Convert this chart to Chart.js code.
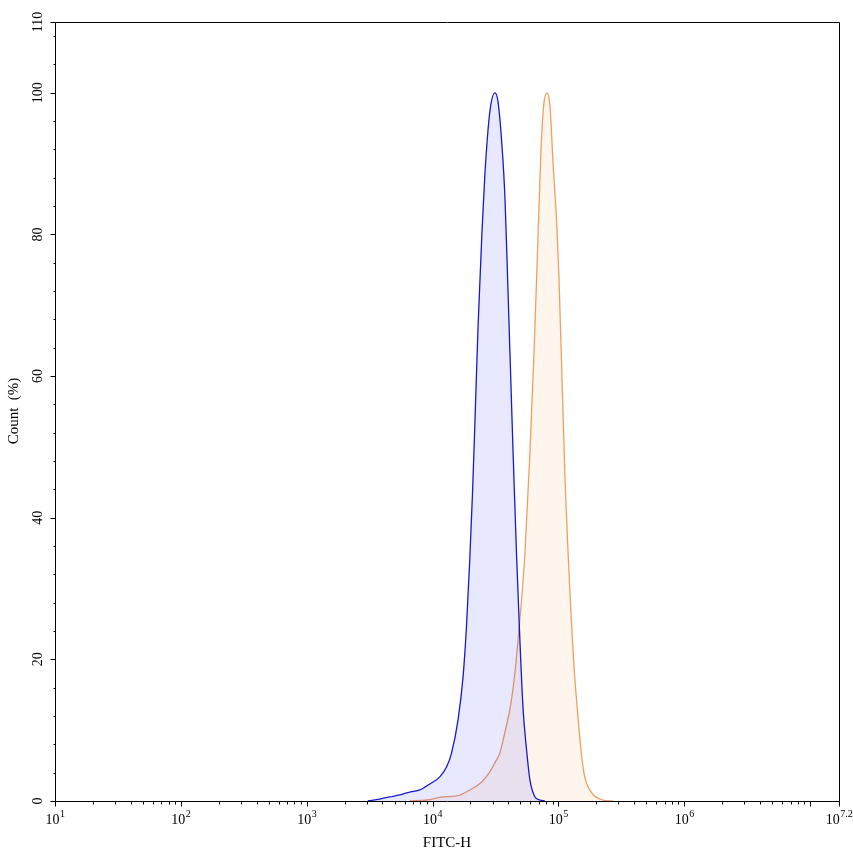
<!DOCTYPE html>
<html>
<head>
<meta charset="utf-8">
<script src="https://cdn.jsdelivr.net/npm/chart.js@4/dist/chart.umd.min.js"></script>
<style>
html,body{margin:0;padding:0;background:#fff;}
#wrap{width:853px;height:856px;position:relative;}
</style>
</head>
<body>
<div id="wrap"><canvas id="c"></canvas></div>
<script>
// ---- data (x stored as log10 of FITC-H, y as Count %) ----
const blueLogFITC = [3.486,3.581,3.661,3.740,3.820,3.899,3.979,4.058,4.114,4.151,4.203,4.243,4.270,4.296,4.318,4.336,4.362,4.392,4.416,4.456,4.496,4.520,4.552,4.576,4.598,4.616,4.641,4.668,4.694,4.720,4.743,4.774,4.814,4.853,4.893];
const blueCount   = [0,0.28,0.57,0.85,1.27,1.56,2.41,3.40,4.9,6.75,11.5,17.6,24.7,34.1,43.6,53.0,67.1,80.0,88.5,97.4,100,98.8,92.5,85.0,73.0,62.9,48.7,34.6,22.8,12.9,8.0,2.97,0.57,0.14,0];
const orangeLogFITC = [3.820,3.955,4.082,4.193,4.296,4.391,4.455,4.495,4.535,4.574,4.620,4.654,4.680,4.733,4.773,4.808,4.837,4.862,4.885,4.909,4.933,4.957,4.989,5.005,5.029,5.053,5.076,5.100,5.124,5.148,5.187,5.211,5.267,5.354,5.434];
const orangeCount   = [0,0.14,0.57,0.71,1.56,2.69,4.10,5.38,6.79,9.62,13.5,18.0,22.8,34.6,48.7,64.0,79.0,92.0,98.5,100,98.2,90.3,80.8,73.7,59.6,45.4,35.5,26.5,19.0,13.5,6.0,3.3,1.1,0.14,0];

const xMajorExps   = [1,2,3,4,5,6,7];
const xLabelExps   = ['1','2','3','4','5','6'];
const xEndLabelExp = '7.2';
const xMinExp = 1, xMaxExp = 7.23;
const yMajorTicks  = [0,20,40,60,80,100,110];
const yLabels      = ['0','20','40','60','80','100','110'];
const yMinorStep = 4;
const xTitle = 'FITC-H';
const yTitle = 'Count  (%)';

const toPts = (ex, ys) => ex.map((e,i)=>({x:Math.pow(10,e), y:ys[i]}));

const SERIF = '"Liberation Serif","DejaVu Serif",serif';

const axesPlugin = {
  id:'axesPlugin',
  afterDraw(chart){
    const {ctx, chartArea:{left,right,top,bottom}, scales:{x,y}} = chart;
    ctx.save();
    ctx.strokeStyle='#000';
    ctx.fillStyle='#000';
    ctx.lineWidth=1;
    ctx.beginPath();
    ctx.rect(Math.round(left)+0.5, Math.round(top)+0.5, Math.round(right-left), Math.round(bottom-top));
    ctx.stroke();
    const B = Math.round(bottom)+0.5, L = Math.round(left)+0.5;
    ctx.beginPath();
    for(let v=0; v<=108; v+=yMinorStep){
      const py = Math.round(y.getPixelForValue(v))+0.5;
      ctx.moveTo(L-2,py); ctx.lineTo(L,py);
    }
    yMajorTicks.forEach(v=>{
      const py = Math.round(y.getPixelForValue(v))+0.5;
      ctx.moveTo(L-5,py); ctx.lineTo(L,py);
    });
    for(let d=xMinExp; d<Math.ceil(xMaxExp); d++){
      for(let k=2;k<=9;k++){
        const val = k*Math.pow(10,d);
        if(Math.log10(val)>xMaxExp) break;
        const px = Math.round(x.getPixelForValue(val))+0.5;
        ctx.moveTo(px,B); ctx.lineTo(px,B+3);
      }
    }
    xMajorExps.forEach(e=>{
      const px = Math.round(x.getPixelForValue(Math.pow(10,e)))+0.5;
      ctx.moveTo(px,B); ctx.lineTo(px,B+5);
    });
    ctx.moveTo(Math.round(right)+0.5,B); ctx.lineTo(Math.round(right)+0.5,B+5);
    ctx.stroke();

    ctx.font = '14px '+SERIF;
    ctx.textAlign='center'; ctx.textBaseline='middle';
    yMajorTicks.forEach((v,i)=>{
      const py = y.getPixelForValue(v);
      ctx.save(); ctx.translate(38,py); ctx.rotate(-Math.PI/2);
      ctx.fillText(yLabels[i],0,0); ctx.restore();
    });
    const drawPow = (px, exp) => {
      ctx.font = '14px '+SERIF;
      const wb = ctx.measureText('10').width;
      ctx.font = '10px '+SERIF;
      const we = ctx.measureText(exp).width;
      const x0 = px - (wb+we)/2;
      ctx.textAlign='left'; ctx.textBaseline='alphabetic';
      ctx.font = '14px '+SERIF; ctx.fillText('10', x0, 824);
      ctx.font = '10px '+SERIF; ctx.fillText(exp, x0+wb+0.5, 817);
    };
    xLabelExps.forEach(e=>drawPow(x.getPixelForValue(Math.pow(10,+e)), e));
    drawPow(right, xEndLabelExp);

    ctx.font = '15px '+SERIF;
    ctx.textAlign='center'; ctx.textBaseline='middle';
    ctx.fillText(xTitle, 447, 843);
    ctx.save(); ctx.translate(14, 411); ctx.rotate(-Math.PI/2);
    ctx.fillText(yTitle, 0, 0); ctx.restore();
    ctx.restore();
  }
};

new Chart(document.getElementById('c'), {
  type:'line',
  data:{
    datasets:[
      {label:'blue', data:toPts(blueLogFITC, blueCount), borderColor:'rgb(24,24,205)', backgroundColor:'rgba(0,0,255,0.09)', borderWidth:1.3, fill:'origin', pointRadius:0, cubicInterpolationMode:'monotone'},
      {label:'orange', data:toPts(orangeLogFITC, orangeCount), borderColor:'rgb(236,160,100)', backgroundColor:'rgba(245,150,60,0.09)', borderWidth:1.3, fill:'origin', pointRadius:0, cubicInterpolationMode:'monotone'}
    ]
  },
  options:{
    responsive:true, maintainAspectRatio:false, animation:false,
    layout:{padding:{left:55, top:22, right:14, bottom:55}},
    plugins:{legend:{display:false}, tooltip:{enabled:false}},
    scales:{
      x:{type:'logarithmic', display:false, min:Math.pow(10,xMinExp), max:Math.pow(10,xMaxExp)},
      y:{type:'linear', display:false, min:0, max:110}
    }
  },
  plugins:[axesPlugin]
});
</script>
</body>
</html>
